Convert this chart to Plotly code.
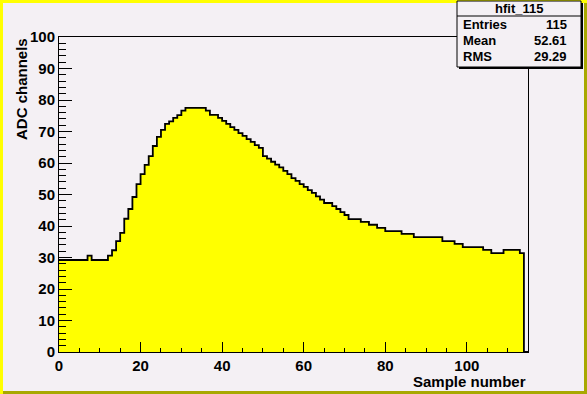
import plotly.graph_objects as go

# ---------------- data ----------------
bin_low_edges = list(range(0, 116))          # 115 bins of width 1, 0..115
adc_values = [
    29.2, 29.2, 29.2, 29.2, 29.2, 29.2, 29.2, 30.6, 29.2, 29.2,
    29.2, 29.2, 30.6, 32.3, 35.2, 37.8, 42.3, 45.4, 49.2, 53.3,
    56.5, 59.4, 62.2, 65.4, 68.3, 70.5, 72.4, 73.2, 74.3, 75.2,
    76.6, 77.5, 77.5, 77.5, 77.5, 77.5, 76.6, 75.3, 75.3, 74.3,
    73.4, 72.4, 71.4, 70.5, 69.5, 68.6, 67.6, 66.7, 65.7, 64.8,
    62.2, 61.4, 60.4, 59.5, 58.6, 57.5, 56.5, 55.2, 54.3, 53.3,
    52.4, 51.4, 50.5, 49.4, 48.4, 47.3, 47.3, 46.3, 45.4, 44.4,
    43.5, 42.2, 42.2, 42.2, 41.3, 41.3, 40.4, 40.4, 39.4, 39.4,
    38.4, 38.4, 38.4, 38.4, 37.5, 37.5, 37.5, 36.5, 36.5, 36.5,
    36.5, 36.5, 36.5, 36.5, 35.2, 35.2, 35.2, 34.3, 34.3, 33.3,
    33.3, 33.3, 33.3, 33.3, 32.4, 32.4, 31.4, 31.4, 31.4, 32.4,
    32.4, 32.4, 32.4, 31.4, 0.0,
]
x_ticks = [0, 20, 40, 60, 80, 100]
y_ticks = [0, 10, 20, 30, 40, 50, 60, 70, 80, 90, 100]
hist_name = "hfit_115"
stats_rows = [("Entries", "115"), ("Mean", "52.61"), ("RMS", "29.29")]
x_title = "Sample number"
y_title = "ADC channels"

# ---------------- layout geometry ----------------
W, H = 587, 394
L, R, T, B = 59, 59, 37, 42
PW, PH = W - L - R, H - T - B

def fx(px):
    return (px - L) / PW

def fy(py):
    return (H - B - py) / PH

BG = "#F4F0F4"
FONT = "Liberation Sans, Arial, Helvetica, sans-serif"

fig = go.Figure()
fig.add_trace(go.Scatter(
    x=bin_low_edges,
    y=adc_values + [adc_values[-1]],
    mode="lines",
    line=dict(shape="hv", color="black", width=1.8),
    fill="tozeroy",
    fillcolor="#FFFF00",
    hoverinfo="skip",
    showlegend=False,
))

axis_font = dict(family=FONT, size=15, color="black", weight="bold")

fig.update_layout(
    width=W, height=H,
    margin=dict(l=L, r=R, t=T, b=B, pad=0),
    paper_bgcolor=BG,
    plot_bgcolor=BG,
    showlegend=False,
    xaxis=dict(
        range=[0, 115], tickvals=x_ticks, ticktext=[str(v) for v in x_ticks],
        ticks="inside", ticklen=10, tickwidth=1, tickcolor="black",
        minor=dict(dtick=5, tick0=0, ticks="inside", ticklen=4, tickcolor="black", tickwidth=1),
        showline=True, linecolor="black", linewidth=1, mirror=True,
        showgrid=False, zeroline=False, tickfont=axis_font,
    ),
    yaxis=dict(
        range=[0, 100], tickvals=y_ticks, ticktext=[str(v) for v in y_ticks],
        ticks="inside", ticklen=13, tickwidth=1, tickcolor="black",
        minor=dict(dtick=2, tick0=0, ticks="inside", ticklen=7, tickcolor="black", tickwidth=1),
        showline=True, linecolor="black", linewidth=1, mirror=True,
        showgrid=False, zeroline=False, tickfont=axis_font,
    ),
)

shapes = []
# canvas bevel border
shapes += [
    dict(type="rect", xref="paper", yref="paper", x0=fx(0), x1=fx(W), y0=fy(0), y1=fy(3),
         fillcolor="#FFFF00", line=dict(width=0), layer="above"),
    dict(type="rect", xref="paper", yref="paper", x0=fx(0), x1=fx(3), y0=fy(0), y1=fy(H),
         fillcolor="#FFFF00", line=dict(width=0), layer="above"),
    dict(type="rect", xref="paper", yref="paper", x0=fx(3), x1=fx(W), y0=fy(H - 3), y1=fy(H),
         fillcolor="#A8A800", line=dict(width=0), layer="above"),
    dict(type="rect", xref="paper", yref="paper", x0=fx(W - 3), x1=fx(W), y0=fy(3), y1=fy(H),
         fillcolor="#A8A800", line=dict(width=0), layer="above"),
]
# stats box: shadow, box, separator
bx0, bx1, by0, by1 = 457, 581, 1, 67
shapes += [
    dict(type="rect", xref="paper", yref="paper", x0=fx(bx0 + 2), x1=fx(bx1 + 2), y0=fy(by0 + 2), y1=fy(by1 + 2),
         fillcolor="black", line=dict(width=0), layer="above"),
    dict(type="rect", xref="paper", yref="paper", x0=fx(bx0), x1=fx(bx1), y0=fy(by0), y1=fy(by1),
         fillcolor=BG, line=dict(color="black", width=1), layer="above"),
    dict(type="line", xref="paper", yref="paper", x0=fx(bx0), x1=fx(bx1), y0=fy(16), y1=fy(16),
         line=dict(color="black", width=1), layer="above"),
]
fig.update_layout(shapes=shapes)

stat_font = dict(family=FONT, size=13, color="black", weight="bold")
ann = [
    dict(text=hist_name, xref="paper", yref="paper", x=fx((bx0 + bx1) / 2), y=fy(8.5),
         xanchor="center", yanchor="middle", showarrow=False, font=stat_font),
]
for i, (k, v) in enumerate(stats_rows):
    yy = fy(24.5 + 16 * i)
    ann.append(dict(text=k, xref="paper", yref="paper", x=fx(461), y=yy, xanchor="left",
                    yanchor="middle", showarrow=False, font=stat_font))
    ann.append(dict(text=v, xref="paper", yref="paper", x=fx(569), y=yy, xanchor="right",
                    yanchor="middle", showarrow=False, font=stat_font))
ann.append(dict(text=x_title, xref="paper", yref="paper", x=1.0, y=fy(381), xanchor="right",
                yanchor="middle", showarrow=False, font=dict(family=FONT, size=15, color="black", weight="bold")))
ann.append(dict(text=y_title, xref="paper", yref="paper", x=fx(21), y=fy(89), xanchor="center",
                yanchor="middle", textangle=-90, showarrow=False,
                font=dict(family=FONT, size=15, color="black", weight="bold")))
fig.update_layout(annotations=ann)

fig.write_html("out.html", config={"displayModeBar": False},
               post_script="document.body.style.margin='0px';document.body.style.overflow='hidden';")
